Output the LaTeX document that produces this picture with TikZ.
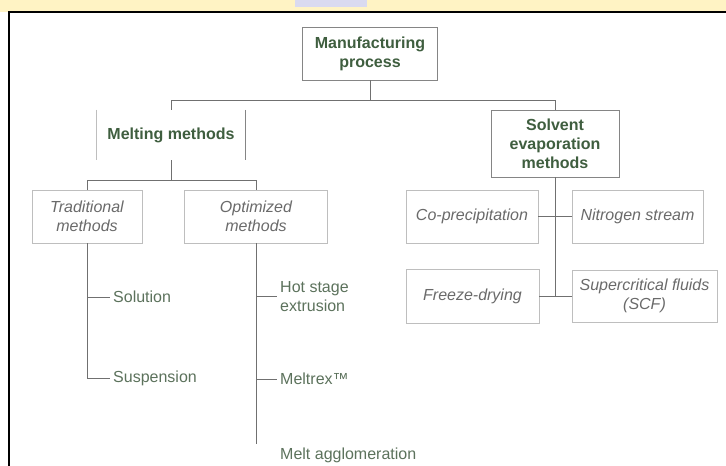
\documentclass[tikz,border=0pt]{standalone}
\usepackage{fontspec}
\setmainfont{Liberation Sans}
\definecolor{boldtxt}{HTML}{3F5E3F}
\definecolor{ittxt}{HTML}{6A6A6A}
\definecolor{leaftxt}{HTML}{5C725C}
\definecolor{linegray}{HTML}{707070}
\definecolor{boxgray}{HTML}{858585}
\definecolor{lightbox}{HTML}{BEBEBE}
\definecolor{stripyellow}{HTML}{FFF3C4}
\definecolor{lavender}{HTML}{DADAF0}
\begin{document}
\begin{tikzpicture}[x=1pt, y=-1pt,
    every node/.style={font=\fontsize{16}{19}\selectfont},
    mainbox/.style={draw=boxgray, thick, align=center, text=boldtxt, font=\fontsize{16}{19}\selectfont\bfseries},
    subbox/.style={draw=lightbox, thick, align=center, text=ittxt, font=\fontsize{16}{19}\selectfont\itshape},
    leaf/.style={anchor=west, align=left, text=leaftxt, inner sep=3pt},
    conn/.style={linegray, thick}]
    \useasboundingbox (0,0) rectangle (726,466);
    \fill[white] (0,0) rectangle (726,466);

    % banner and frame
    \fill[stripyellow] (0,0) rectangle (726,12);
    \fill[lavender] (295,0) rectangle (367,7);
    \draw[black, line width=1.2pt] (9,466) -- (9,12) -- (726,12);

    % top level
    \node[mainbox, minimum width=135, minimum height=53] (manu) at (370,53.5) {Manufacturing\\process};
    \node[text=boldtxt, font=\fontsize{16}{19}\selectfont\bfseries,
          minimum width=149, minimum height=50] (melt) at (171,135) {Melting methods};
    \node[mainbox, minimum width=128, minimum height=67] (solv) at (555,143.5) {Solvent\\evaporation\\methods};

    \draw[lightbox, thick] (melt.north west) -- (melt.south west);
    \draw[boxgray, thick] (melt.north east) -- (melt.south east);

    % melting methods
    \node[subbox, minimum width=110, minimum height=53] (trad) at (87,216.5) {Traditional\\methods};
    \node[subbox, minimum width=143, minimum height=53] (opt) at (256,216.5) {Optimized\\methods};

    \node[leaf] (sol) at (110,297) {Solution};
    \node[leaf] (susp) at (110,378) {Suspension};
    \node[leaf] (hot) at (277,296.5) {Hot stage\\extrusion};
    \node[leaf] (meltrex) at (277,379) {Meltrex™};
    \node[leaf] (agglo) at (277,455) {Melt agglomeration};

    % solvent evaporation methods
    \node[subbox, minimum width=132, minimum height=53] (copr) at (472,216.5) {Co-precipitation};
    \node[subbox, minimum width=131, minimum height=53] (nitro) at (637.5,216.5) {Nitrogen stream};
    \node[subbox, minimum width=133, minimum height=54] (freeze) at (472.5,296) {Freeze-drying};
    \node[subbox, minimum width=145, minimum height=52] (scf) at (644.5,296) {Supercritical fluids\\(SCF)};

    % connectors
    \coordinate (top) at (370,100);
    \draw[conn] (manu.south) -- (top);
    \draw[conn] (top) -| (melt.north);
    \draw[conn] (top) -| (solv.north);

    \coordinate (mid) at (171,180);
    \draw[conn] (melt.south) -- (mid);
    \draw[conn] (mid) -| (trad.north);
    \draw[conn] (mid) -| (opt.north);

    \draw[conn] (trad.south) |- (susp.west);
    \draw[conn] (trad.south |- sol.west) -- (sol.west);

    \draw[conn] (opt.south) -- (opt.south |- agglo.north);
    \draw[conn] (opt.south |- hot.west) -- (hot.west);
    \draw[conn] (opt.south |- meltrex.west) -- (meltrex.west);

    \draw[conn] (solv.south) -- (solv.south |- freeze.east);
    \draw[conn] (copr.east) -- (nitro.west);
    \draw[conn] (freeze.east) -- (scf.west);
\end{tikzpicture}
\end{document}
